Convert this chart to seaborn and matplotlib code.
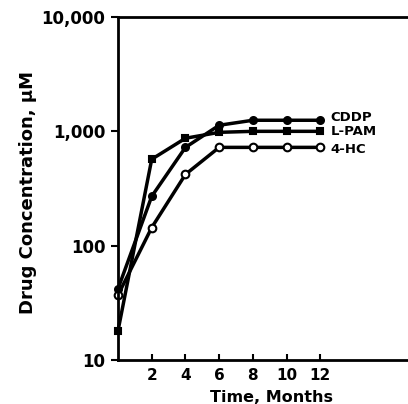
import matplotlib
matplotlib.use("Agg")
import matplotlib.pyplot as plt
import matplotlib.ticker as mticker
import seaborn as sns
import pandas as pd

months = [0, 2, 4, 6, 8, 10, 12]
cddp = [42, 270, 724, 1130, 1250, 1250, 1250]
lpam = [18, 570, 870, 980, 1000, 1000, 1000]
hc4 = [37, 144, 420, 724, 724, 724, 724]
series_names = ["CDDP", "L-PAM", "4-HC"]
yticks = [10, 100, 1000, 10000]
ytick_labels = ["10", "100", "1,000", "10,000"]
xticks = [2, 4, 6, 8, 10, 12]

sns.set_style("ticks")
plt.rcParams['font.family'] = ['DejaVu Sans']
plt.rcParams['font.weight'] = 'bold'
plt.rcParams['text.color'] = 'black'
plt.rcParams['axes.labelcolor'] = 'black'
plt.rcParams['xtick.color'] = 'black'
plt.rcParams['ytick.color'] = 'black'
plt.rcParams['axes.edgecolor'] = 'black'

fig = plt.figure(figsize=(4.08, 4.04), dpi=100)
ax = fig.add_axes([118/408, 44/404, 290/408, 343/404])

styles = {
    "CDDP": dict(marker="o", mfc="black", ms=5),
    "L-PAM": dict(marker="s", mfc="black", ms=4.5),
    "4-HC": dict(marker="o", mfc="white", ms=5.5),
}
data = {"CDDP": cddp, "L-PAM": lpam, "4-HC": hc4}
label_y = {"CDDP": 1310, "L-PAM": 1000, "4-HC": 700}
for name in series_names:
    df = pd.DataFrame({"month": months, "conc": data[name]})
    st = styles[name]
    sns.lineplot(data=df, x="month", y="conc", ax=ax, color="black", lw=2.5,
                 marker=st["marker"], markerfacecolor=st["mfc"], markeredgecolor="black",
                 markeredgewidth=1.5, markersize=st["ms"], clip_on=False)
    ax.text(12.6, label_y[name], name, fontsize=9.5, fontweight="bold",
            va="center", ha="left", color="black")

ax.set_yscale("log")
ax.set_ylim(10, 10000)
ax.set_xlim(0, 17.2)
ax.set_yticks(yticks)
ax.set_yticklabels(ytick_labels)
ax.yaxis.set_minor_locator(mticker.NullLocator())
ax.set_xticks(xticks)
ax.tick_params(axis="y", direction="out", length=5, width=1.5, labelsize=12, pad=4)
ax.tick_params(axis="x", direction="in", length=4, width=1.5, labelsize=11, pad=6)
for lab in ax.get_xticklabels() + ax.get_yticklabels():
    lab.set_fontweight("bold")
for s in ["left", "bottom", "top"]:
    ax.spines[s].set_linewidth(2)
ax.spines["right"].set_visible(False)
ax.set_xlabel("Time, Months", fontsize=11.5, fontweight="bold", va="center")
ax.set_ylabel("Drug Concentration, µM", fontsize=13, fontweight="bold", va="center")
ax.xaxis.set_label_coords(0.53, -0.11)
ax.yaxis.set_label_coords(-0.31, 0.487)

fig.savefig("out.png", dpi=100)
